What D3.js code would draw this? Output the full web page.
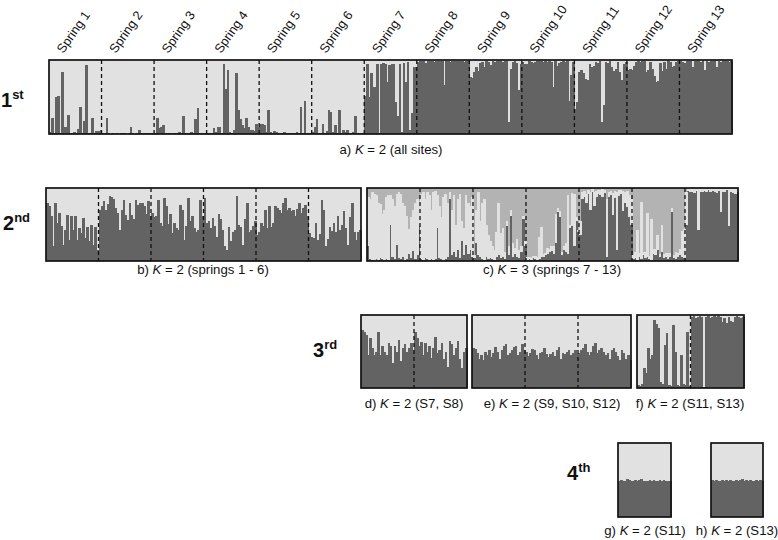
<!DOCTYPE html>
<html>
<head>
<meta charset="utf-8">
<script src="https://cdn.jsdelivr.net/npm/d3@7/dist/d3.min.js"></script>
<style>
  html, body { margin: 0; padding: 0; background: #fff; }
  svg { display: block; font-family: "Liberation Sans", Arial, sans-serif; }
</style>
</head>
<body>
<script>
// ---------- labels ----------
const springs = ["Spring 1","Spring 2","Spring 3","Spring 4","Spring 5","Spring 6","Spring 7",
                 "Spring 8","Spring 9","Spring 10","Spring 11","Spring 12","Spring 13"];
const roundLabels = [["1","st"],["2","nd"],["3","rd"],["4","th"]];
const captions = [
  ["a) ","K"," = 2 (all sites)"],
  ["b) ","K"," = 2 (springs 1 - 6)"],
  ["c) ","K"," = 3 (springs 7 - 13)"],
  ["d) ","K"," = 2 (S7, S8)"],
  ["e) ","K"," = 2 (S9, S10, S12)"],
  ["f) ","K"," = 2 (S11, S13)"],
  ["g) ","K"," = 2 (S11)"],
  ["h) ","K"," = 2 (S13)"]
];

// ---------- data: membership (%) in dark cluster, one array per spring ----------
// a) K = 2, all sites
const panelA = [
  [3,22,2,50,52,1,84,9,10,26,1,2,3,1,7,37,2,17,93,1,2,22,1,4,4,5],
  [1,2,21,1,0,1,0,1,0,1,2,1,0,1,10,1,0,1,5,2,1,2,1,2,1,1],
  [2,22,8,10,12,1,2,1,0,1,1,2,3,1,25,2,1,1,3,1,20,35,1,2,1,1],
  [1,2,1,8,3,10,9,2,95,61,86,3,2,5,82,32,20,12,8,22,10,6,5,4,14,10],
  [14,14,12,3,32,3,2,4,3,2,1,2,3,2,1,1,2,1,3,2,36,1,45,2,1,1],
  [3,10,20,2,1,13,2,4,33,30,3,12,2,33,2,5,3,6,2,1,3,24,1,2,1,2],
  [52,95,50,82,64,64,95,2,95,96,95,70,93,95,94,43,25,95,3,96,70,97,5,28,90,90],
  [97,98,99,98,96,98,99,98,97,99,98,98,99,66,98,99,97,98,99,98,99,98,98,97,99,98],
  [77,76,84,90,85,96,97,90,98,97,93,98,97,98,99,98,97,98,99,16,88,97,98,96,59,95],
  [97,94,95,98,97,96,97,98,99,98,97,98,97,98,97,64,98,92,96,97,98,97,98,45,80,97],
  [34,43,84,86,82,75,73,95,90,92,97,96,98,16,39,97,96,98,90,85,88,97,84,73,95,97],
  [86,88,86,92,97,98,97,98,99,84,86,97,88,78,70,72,96,85,97,88,98,97,90,92,97,98],
  [98,97,96,98,99,98,91,98,99,98,97,98,86,98,97,98,99,98,91,98,97,98,99,98,97,98]
];
// b) K = 2, springs 1 - 6
const panelB = [
  [79,75,61,20,79,52,66,48,22,43,63,29,61,43,61,29,45,38,59,31,47,27,50,22,47,15],
  [70,75,82,70,78,89,87,85,72,66,43,70,84,63,56,79,63,58,84,77,80,79,75,64,82,62],
  [66,60,61,84,52,48,86,75,51,65,38,52,45,43,77,70,29,48,86,55,61,45,40,42,84,62],
  [86,52,55,45,59,48,33,64,57,43,20,15,47,27,40,43,89,50,47,22,57,79,40,43,48,55],
  [36,40,52,48,70,45,75,47,52,75,72,70,66,79,86,70,72,68,70,61,71,79,66,72,77,62],
  [38,33,31,52,29,37,84,70,20,30,47,41,52,40,61,43,50,68,45,22,60,79,40,29,40,43]
];
// c) K = 3, springs 7 - 13 : dark cluster and light cluster (%); mid-grey cluster is the rest
const panelCDark = [
  [20,3,2,2,3,2,4,3,2,3,2,50,5,3,22,4,3,6,2,3,10,4,14,3,8,48],
  [3,2,4,3,2,3,2,3,45,4,3,2,3,5,85,8,12,6,15,4,28,8,22,10,15,5],
  [4,25,8,5,3,2,6,3,4,3,2,5,8,4,6,3,48,8,62,5,10,6,4,12,57,20],
  [2,3,2,4,3,2,3,6,5,8,10,12,14,10,25,67,60,8,15,12,10,45,48,20,55,40],
  [35,85,88,80,92,70,94,75,88,92,90,88,93,5,87,90,63,86,15,89,92,68,80,74,60,50],
  [3,4,2,5,3,8,4,6,3,2,10,8,15,5,12,4,6,3,5,67,4,3,5,8,6,4],
  [50,96,94,95,93,96,42,95,94,96,95,97,94,96,95,93,96,67,94,95,97,48,95,93,92,95]
];
const panelCLight = [
  [68,82,92,90,87,78,74,62,68,85,88,40,80,72,70,90,89,74,73,59,34,56,56,77,77,34],
  [89,93,81,91,88,67,92,93,45,71,57,86,89,75,10,62,78,44,70,88,27,37,68,70,60,83],
  [4,45,86,50,77,83,44,32,24,17,13,35,72,34,39,9,7,12,8,20,8,24,11,8,5,8],
  [3,2,2,3,4,3,30,40,4,3,8,5,6,10,40,5,8,4,6,12,80,5,45,72,5,3],
  [20,10,8,12,5,25,4,20,8,5,7,10,4,80,8,6,30,10,80,8,5,28,15,22,30,35],
  [5,8,40,6,78,5,8,60,4,55,6,8,20,4,38,6,5,8,6,5,4,10,6,8,35,40],
  [45,3,4,3,5,3,56,4,5,3,4,2,5,3,4,6,3,32,5,4,2,51,4,6,7,4]
];
// d) K = 2 (S7, S8)
const panelD = [
  [80,77,72,45,68,55,45,50,77,45,58,50,45,62,57,34,58,50,66,37,55,60,50,55,61,52],
  [77,68,58,63,45,61,50,58,41,55,70,48,52,61,40,50,29,64,60,45,55,64,40,27,50,55]
];
// e) K = 2 (S9, S10, S12)
const panelE = [
  [55,54,48,40,45,38,50,45,52,42,48,56,50,40,52,57,60,45,48,52,56,58,45,50,60,52],
  [50,44,48,54,52,45,40,48,50,55,47,42,46,50,44,52,56,40,48,46,50,52,45,48,52,46],
  [48,52,55,60,50,45,50,58,62,48,52,55,50,45,48,40,52,55,50,44,38,52,48,40,45,38]
];
// f) K = 2 (S11, S13)
const panelF = [
  [4,3,5,27,20,55,40,45,93,88,82,8,5,59,75,4,3,86,50,4,3,45,5,4,77,3],
  [97,98,96,97,98,97,2,97,98,96,97,98,97,98,97,90,96,89,97,92,90,97,98,97,96,97]
];
// g) K = 2 (S11)   h) K = 2 (S13)
const panelG = [[49,50,48,49,51,50,49,48,50,49,50,51,49,48,49,50,49,50,48,49,50,49,50,49,48,49]];
const panelH = [[50,49,50,48,49,50,49,50,49,50,48,49,50,49,50,51,49,50,49,50,49,48,50,49,50,49]];

// ---------- drawing ----------
const W = 778, H = 540;
const COL = { dark: "#636363", light: "#e1e1e1", mid: "#b3b3b3" };
const svg = d3.select("body").append("svg").attr("width", W).attr("height", H);

function k2rows(groups) {
  return groups.map(g => g.map(v => ({ dark: v, light: 100 - v })));
}
function k3rows(darkG, lightG) {
  return darkG.map((g, gi) => g.map((v, i) => {
    const l = lightG[gi][i];
    return { dark: v, light: l, mid: Math.max(0, 100 - v - l) };
  }));
}

function drawPanel(box, groups, keys) {
  const rows = groups.flat();
  const x = d3.scaleBand().domain(d3.range(rows.length)).range([box.x0, box.x1]).padding(0);
  const y = d3.scaleLinear().domain([0, 100]).range([box.y1, box.y0]);
  const series = d3.stack().keys(keys)(rows);
  const g = svg.append("g");
  // background in top cluster colour avoids any seams
  g.append("rect")
    .attr("x", box.x0).attr("y", box.y0)
    .attr("width", box.x1 - box.x0).attr("height", box.y1 - box.y0)
    .attr("fill", COL[keys[keys.length - 1]]);
  g.selectAll("g.layer").data(series.slice(0, -1)).join("g")
    .attr("fill", s => COL[s.key])
    .attr("shape-rendering", "crispEdges")
    .selectAll("rect").data(s => s).join("rect")
      .attr("x", (d, i) => x(i))
      .attr("width", x.bandwidth() + 0.6)
      .attr("y", d => y(d[1]))
      .attr("height", d => Math.max(0, y(d[0]) - y(d[1])));
  // group separators
  let cum = 0;
  const seps = [];
  groups.slice(0, -1).forEach(gr => { cum += gr.length; seps.push(x(cum)); });
  g.selectAll("line.sep").data(seps).join("line")
    .attr("x1", d => d).attr("x2", d => d)
    .attr("y1", box.y0).attr("y2", box.y1)
    .attr("stroke", "#111").attr("stroke-width", 1.3)
    .attr("stroke-dasharray", "4,3");
  g.append("rect")
    .attr("x", box.x0).attr("y", box.y0)
    .attr("width", box.x1 - box.x0).attr("height", box.y1 - box.y0)
    .attr("fill", "none").attr("stroke", "#111").attr("stroke-width", 1.7);
  return x;
}

const boxes = {
  a: { x0: 49,  x1: 732, y0: 60,  y1: 134 },
  b: { x0: 46,  x1: 361, y0: 188, y1: 261 },
  c: { x0: 367, x1: 738, y0: 188, y1: 261 },
  d: { x0: 361, x1: 467, y0: 315, y1: 388 },
  e: { x0: 472, x1: 631, y0: 315, y1: 388 },
  f: { x0: 637, x1: 744, y0: 315, y1: 388 },
  g: { x0: 618, x1: 671, y0: 443, y1: 517 },
  h: { x0: 711, x1: 763, y0: 443, y1: 517 }
};

drawPanel(boxes.a, k2rows(panelA), ["dark", "light"]);
drawPanel(boxes.b, k2rows(panelB), ["dark", "light"]);
drawPanel(boxes.c, k3rows(panelCDark, panelCLight), ["dark", "light", "mid"]);
drawPanel(boxes.d, k2rows(panelD), ["dark", "light"]);
drawPanel(boxes.e, k2rows(panelE), ["dark", "light"]);
drawPanel(boxes.f, k2rows(panelF), ["dark", "light"]);
drawPanel(boxes.g, k2rows(panelG), ["dark", "light"]);
drawPanel(boxes.h, k2rows(panelH), ["dark", "light"]);

// spring labels (rotated)
const xs = d3.scaleBand().domain(springs).range([boxes.a.x0, boxes.a.x1]);
svg.append("g").selectAll("text").data(springs).join("text")
  .attr("transform", s => `translate(${xs(s) + xs.bandwidth() / 2 - 12},54) rotate(-55)`)
  .attr("font-size", 12.8).attr("fill", "#111")
  .text(s => s);

// round labels
const roundPos = [[1, 107], [3, 230], [313, 357], [567, 480]];
roundLabels.forEach((r, i) => {
  const t = svg.append("text")
    .attr("x", roundPos[i][0]).attr("y", roundPos[i][1])
    .attr("font-weight", "bold").attr("font-size", 20).attr("fill", "#111");
  t.append("tspan").text(r[0]);
  t.append("tspan").attr("dy", -8).attr("font-size", 13).text(r[1]);
});

// captions
const capPos = [[391, 154], [203, 273.5], [552, 273.5], [414, 407.5], [552, 407.5], [690, 407.5], [645, 535], [737, 535]];
captions.forEach((c, i) => {
  const t = svg.append("text")
    .attr("x", capPos[i][0]).attr("y", capPos[i][1])
    .attr("text-anchor", "middle").attr("font-size", 13.2).attr("fill", "#111");
  t.append("tspan").text(c[0]);
  t.append("tspan").attr("font-style", "italic").text(c[1]);
  t.append("tspan").text(c[2]);
});
</script>
</body>
</html>
